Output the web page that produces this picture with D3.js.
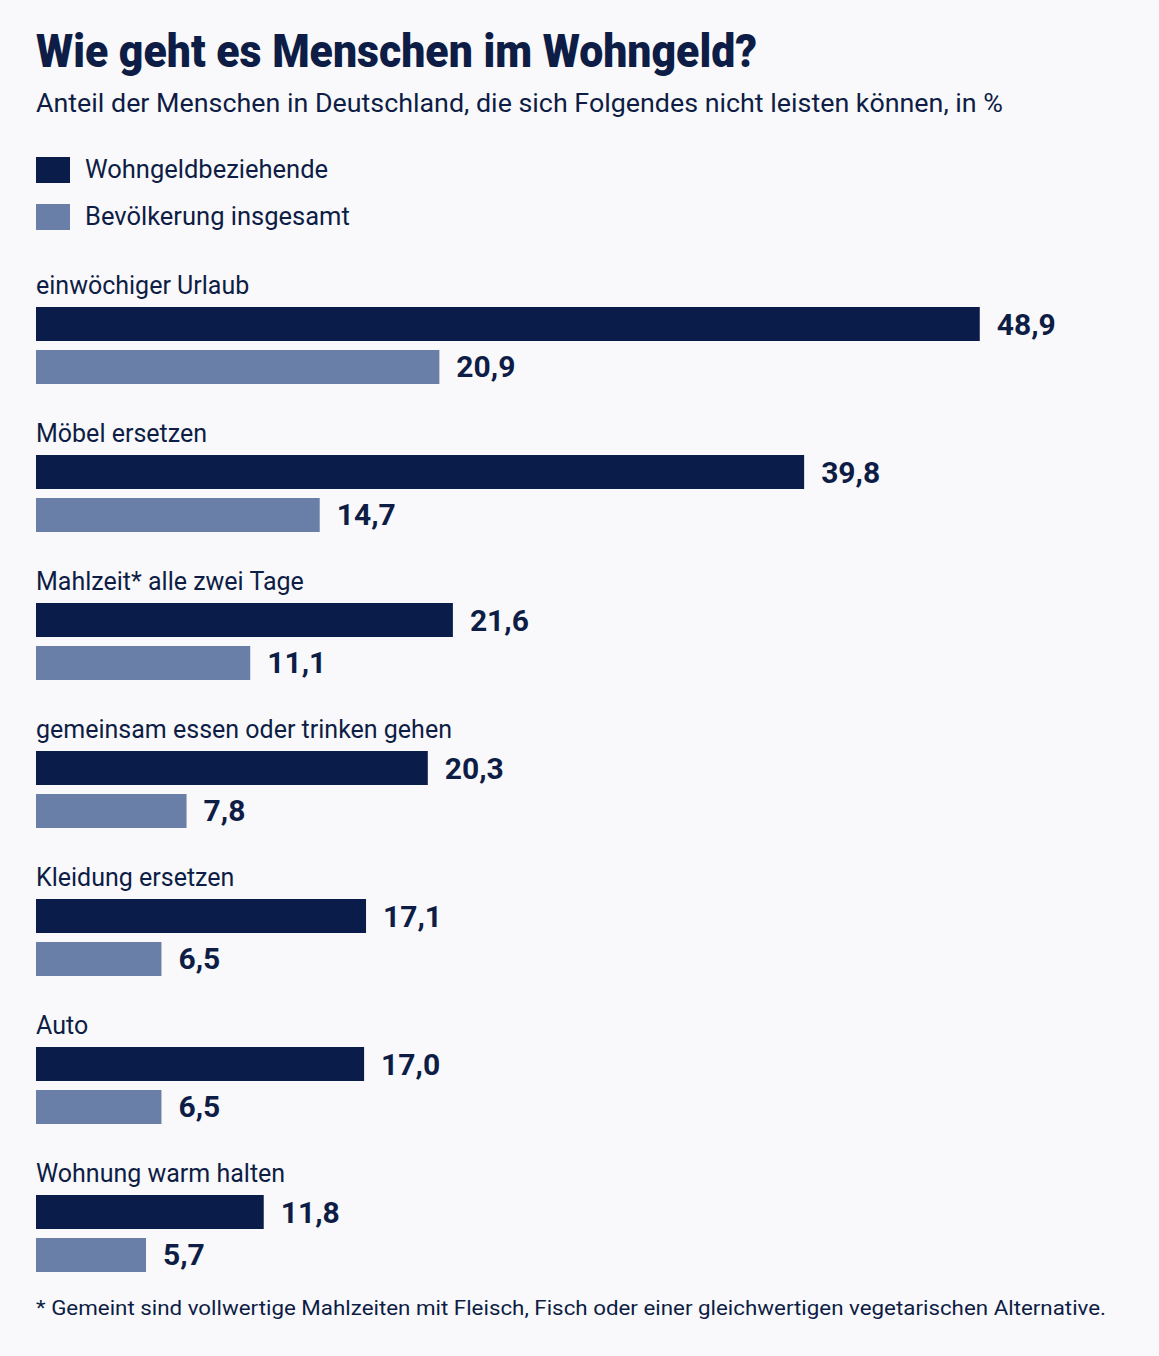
<!DOCTYPE html>
<html lang="de">
	<head>
		<meta charset="utf-8">
		<title>Wohngeld</title>
		<script src="https://cdn.jsdelivr.net/npm/d3@7"></script>
		<style>
			body { margin: 0; background: #f9f9fb; }
			svg text { font-family: Roboto, "Noto Sans", sans-serif; fill: #0e1d45; }
		</style>
	</head>
	<body>
		<script>

			// data
			var categories = [
				"einwöchiger Urlaub",
				"Möbel ersetzen",
				"Mahlzeit* alle zwei Tage",
				"gemeinsam essen oder trinken gehen",
				"Kleidung ersetzen",
				"Auto",
				"Wohnung warm halten"
			];
			var seriesNames = ["Wohngeldbeziehende", "Bevölkerung insgesamt"];
			var wohngeld = [48.9, 39.8, 21.6, 20.3, 17.1, 17.0, 11.8];
			var gesamt = [20.9, 14.7, 11.1, 7.8, 6.5, 6.5, 5.7];

			var w = 1159;
			var h = 1356;
			var left = 36;
			var colors = ["#0a1d4a", "#6a7fa7"];

			var rows = categories.map(function(c, i) {
				return { cat: c, values: [wohngeld[i], gesamt[i]] };
			});

			var svg = d3.select("body")
				.append("svg")
				.attr("width", w)
				.attr("height", h);

			svg.append("rect")
				.attr("width", w)
				.attr("height", h)
				.attr("fill", "#f9f9fb");

			// title + subtitle
			svg.append("text")
				.attr("x", left)
				.attr("y", 67)
				.attr("textLength", 721)
				.attr("lengthAdjust", "spacingAndGlyphs")
				.style("font-size", "47px")
				.style("font-weight", "900")
				.text("Wie geht es Menschen im Wohngeld?");

			svg.append("text")
				.attr("x", left)
				.attr("y", 112)
				.attr("textLength", 967)
				.attr("lengthAdjust", "spacingAndGlyphs")
				.style("font-size", "25px")
				.text("Anteil der Menschen in Deutschland, die sich Folgendes nicht leisten können, in %");

			// legend
			var legend = svg.selectAll("g.legend")
				.data(seriesNames)
				.enter()
				.append("g")
				.attr("class", "legend")
				.attr("transform", function(d, i) { return "translate(" + left + "," + (157 + i * 47) + ")"; });

			legend.append("rect")
				.attr("width", 34)
				.attr("height", 26)
				.attr("fill", function(d, i) { return colors[i]; });

			legend.append("text")
				.attr("x", 49)
				.attr("y", 21)
				.style("font-size", "25.5px")
				.text(function(d) { return d; });

			// scales
			var xScale = d3.scaleLinear()
				.domain([0, 50])
				.range([left, left + 19.3 * 50]);

			var yScale = d3.scaleBand()
				.domain(categories)
				.range([307, 307 + 148 * categories.length]);

			var subScale = d3.scaleBand()
				.domain([0, 1])
				.range([0, 77])
				.paddingInner(0.2093);

			var groups = svg.selectAll("g.group")
				.data(rows)
				.enter()
				.append("g")
				.attr("class", "group")
				.attr("transform", function(d) { return "translate(0," + yScale(d.cat) + ")"; });

			groups.append("text")
				.attr("x", left)
				.attr("y", -13)
				.style("font-size", "25px")
				.text(function(d) { return d.cat; });

			groups.selectAll("rect")
				.data(function(d) { return d.values; })
				.enter()
				.append("rect")
				.attr("x", xScale(0))
				.attr("y", function(d, i) { return subScale(i); })
				.attr("width", function(d) { return xScale(d) - xScale(0); })
				.attr("height", subScale.bandwidth())
				.attr("fill", function(d, i) { return colors[i]; });

			groups.selectAll("text.val")
				.data(function(d) { return d.values; })
				.enter()
				.append("text")
				.attr("class", "val")
				.attr("x", function(d) { return xScale(d) + 17; })
				.attr("y", function(d, i) { return subScale(i) + subScale.bandwidth() / 2 + 10.5; })
				.style("font-size", "30px")
				.style("font-weight", "700")
				.text(function(d) { return d3.format(".1f")(d).replace(".", ","); });

			// footnote
			svg.append("text")
				.attr("x", left)
				.attr("y", 1315)
				.attr("textLength", 1070)
				.attr("lengthAdjust", "spacingAndGlyphs")
				.style("font-size", "21px")
				.text("* Gemeint sind vollwertige Mahlzeiten mit Fleisch, Fisch oder einer gleichwertigen vegetarischen Alternative.");

		</script>
	</body>
</html>
